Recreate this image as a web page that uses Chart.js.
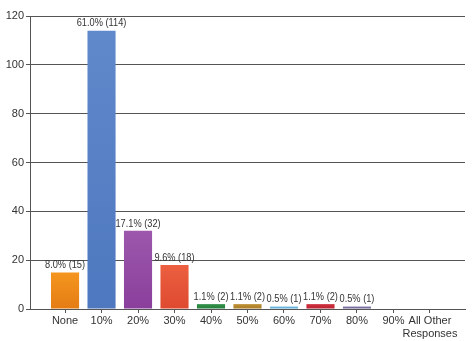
<!DOCTYPE html>
<html lang="en">
<head>
    <meta charset="UTF-8">
    <title>Responses</title>
    <script src="https://cdn.jsdelivr.net/npm/chart.js"></script>
    <style>
        html, body { margin: 0; padding: 0; background: #fff; }
        #wrap { width: 475px; height: 341px; }
    </style>
</head>
<body>
    <div id="wrap"><canvas id="chart" width="475" height="341"></canvas></div>

    <script>
        const categories = ['None', '10%', '20%', '30%', '40%', '50%', '60%', '70%', '80%', '90%', ['All Other', 'Responses']];
        const counts = [15, 114, 32, 18, 2, 2, 1, 2, 1, 0, 0];
        const percents = ['8.0%', '61.0%', '17.1%', '9.6%', '1.1%', '1.1%', '0.5%', '1.1%', '0.5%', '', ''];
        const barTops = ['#F5961F', '#6089CB', '#9C58AC', '#EC5F40', '#33924A', '#BE9035', '#72BADF', '#D0323F', '#8276A8', '#999999', '#999999'];
        const barBottoms = ['#E47C14', '#4E78BF', '#8A3F9C', '#DE4A30', '#237C38', '#A87A26', '#5AA6D2', '#B82232', '#6E6294', '#888888', '#888888'];
        const yTicks = [0, 20, 40, 60, 80, 100, 120];

        const fontFamily = '"Liberation Sans", Arial, sans-serif';

        // labels above each bar: "61.0% (114)"
        const barLabels = {
            id: 'barLabels',
            afterDatasetsDraw(chart) {
                const ctx = chart.ctx;
                const meta = chart.getDatasetMeta(0);
                ctx.save();
                ctx.font = '10.5px ' + fontFamily;
                ctx.fillStyle = '#333';
                ctx.textAlign = 'center';
                ctx.textBaseline = 'bottom';
                meta.data.forEach((bar, i) => {
                    if (!counts[i]) return;
                    // squeeze the text a little, the original uses a condensed face
                    ctx.save();
                    ctx.translate(bar.x, bar.y - 2);
                    ctx.scale(0.88, 1);
                    ctx.fillText(percents[i] + ' (' + counts[i] + ')', 0, 0);
                    ctx.restore();
                });
                ctx.restore();
            }
        };

        function barFill(c) {
            const i = c.dataIndex;
            const y = c.chart.scales.y;
            if (!c.chart.chartArea || !y) return barBottoms[i];
            const g = c.chart.ctx.createLinearGradient(0, y.getPixelForValue(counts[i]), 0, y.getPixelForValue(0));
            g.addColorStop(0, barTops[i]);
            g.addColorStop(1, barBottoms[i]);
            return g;
        }

        new Chart(document.getElementById('chart'), {
            type: 'bar',
            data: {
                datasets: [{
                    data: counts.map((v, i) => ({ x: i, y: v })),
                    backgroundColor: barFill,
                    categoryPercentage: 1,
                    barPercentage: 0.77
                }]
            },
            options: {
                responsive: false,
                animation: false,
                layout: { padding: { top: 16, right: 10, left: 0, bottom: 0 } },
                plugins: { legend: { display: false }, tooltip: { enabled: false } },
                scales: {
                    x: {
                        type: 'linear',
                        offset: false,
                        min: -0.96,
                        max: 10.96,
                        afterBuildTicks: axis => { axis.ticks = categories.map((_, i) => ({ value: i })); },
                        afterFit: axis => { axis.height = 32; },
                        grid: { offset: false, drawOnChartArea: false, drawTicks: true, tickLength: 4, color: '#555' },
                        border: { color: '#555' },
                        ticks: {
                            padding: 1,
                            color: '#333',
                            font: { family: fontFamily, size: 11 },
                            maxRotation: 0,
                            autoSkip: false,
                            callback: v => categories[v]
                        }
                    },
                    y: {
                        min: 0,
                        max: 120,
                        afterBuildTicks: axis => { axis.ticks = yTicks.map(v => ({ value: v })); },
                        afterFit: axis => { axis.width = 30; },
                        grid: { color: '#555', tickLength: 4 },
                        border: { color: '#555' },
                        ticks: {
                            padding: 2,
                            color: '#333',
                            font: { family: fontFamily, size: 11 }
                        }
                    }
                }
            },
            plugins: [barLabels]
        });
    </script>
</body>
</html>
